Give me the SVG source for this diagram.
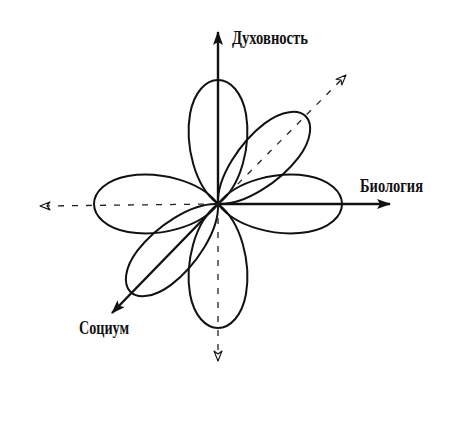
<svg xmlns="http://www.w3.org/2000/svg" width="450" height="448" viewBox="0 0 450 448">
<defs>
<marker id="solidHead" viewBox="0 0 14 10" refX="13" refY="5" markerWidth="14" markerHeight="10" markerUnits="userSpaceOnUse" orient="auto">
<path d="M0,0 L14,5 L0,10 L3,5 Z" fill="#111"/>
</marker>
<marker id="openHead" viewBox="0 0 12 10" refX="11" refY="5" markerWidth="12" markerHeight="10" markerUnits="userSpaceOnUse" orient="auto">
<path d="M1,1 L11,5 L1,9 L4,5 Z" fill="#fff" stroke="#111" stroke-width="1.1" stroke-linejoin="round"/>
</marker>
<path id="petal" d="M0,0 C-24,-18 -33,-60 -28,-90 C-24,-112 -12,-124 0,-124 C12,-124 24,-112 28,-90 C33,-60 24,-18 0,0 Z"/>
<path id="petalNarrow" d="M0,0 C-20,-18 -28,-60 -24,-90 C-21,-112 -10,-124 0,-124 C10,-124 21,-112 24,-90 C28,-60 20,-18 0,0 Z"/>
</defs>
<style>
.lobe{fill:none;stroke:#111;stroke-width:2}
.solid{fill:none;stroke:#111;stroke-width:2.4}
.dash{fill:none;stroke:#222;stroke-width:1.3;stroke-dasharray:6 8}
.lbl{font-family:"Liberation Serif","DejaVu Serif",serif;font-weight:bold;font-size:18px;fill:#111}
</style>
<rect width="450" height="448" fill="#fff"/>
<g id="lobes">
<g id="lobe-up"><use href="#petal" class="lobe" transform="translate(218,204)"/></g>
<g id="lobe-right"><use href="#petal" class="lobe" transform="translate(218,204) rotate(90)"/></g>
<g id="lobe-left"><use href="#petal" class="lobe" transform="translate(218,204) rotate(-90)"/></g>
<g id="lobe-down"><use href="#petal" class="lobe" transform="translate(218,204) rotate(180)"/></g>
<g id="lobe-upright"><use href="#petalNarrow" class="lobe" transform="translate(218,204) rotate(45)"/></g>
<g id="lobe-downleft"><use href="#petalNarrow" class="lobe" transform="translate(218,204) rotate(-135)"/></g>
</g>
<g id="connectors">
<path class="solid" d="M218,204 L218,32" marker-end="url(#solidHead)"/>
<path class="solid" d="M218,204 L390,204" marker-end="url(#solidHead)"/>
<path class="solid" d="M218,204 L112,313" marker-end="url(#solidHead)"/>
<path class="dash" d="M218,204 L218,361" marker-end="url(#openHead)"/>
<path class="dash" d="M218,204 L40,206" marker-end="url(#openHead)"/>
<path class="dash" d="M218,204 L346,75" marker-end="url(#openHead)"/>
</g>
<g id="label-spirit"><text class="lbl" x="232" y="44" textLength="76" lengthAdjust="spacingAndGlyphs">Духовность</text></g>
<g id="label-bio"><text class="lbl" x="360" y="192" textLength="63" lengthAdjust="spacingAndGlyphs">Биология</text></g>
<g id="label-socium"><text class="lbl" x="79" y="334" textLength="50" lengthAdjust="spacingAndGlyphs">Социум</text></g>
</svg>
